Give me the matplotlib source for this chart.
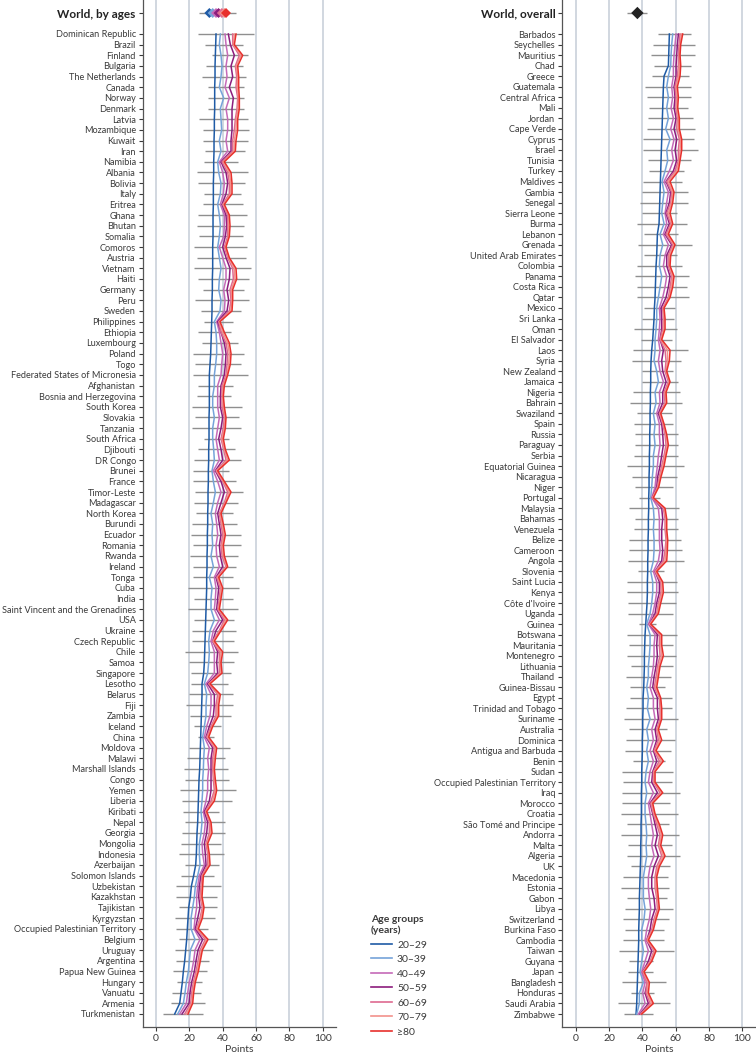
import matplotlib.pyplot as plt
from matplotlib.lines import Line2D

plt.rcParams["font.family"] = ["Lato", "DejaVu Sans"]

# ------------------------------
# Data (points)
# ------------------------------
age_groups = ["20–29", "30–39", "40–49", "50–59", "60–69", "70–79", "≥80"]
age_colors = ["#1f5ba6", "#76a3d9", "#c56ab8", "#8c1d7d", "#de6a90", "#f2918b", "#e8302c"]

world_by_ages = [32, 34, 36, 37.5, 39.5, 41, 42]
world_by_ages_range = [26, 48]
world_overall = 37
world_overall_range = [31, 43]

left_countries = [
    "Dominican Republic", "Brazil", "Finland", "Bulgaria", "The Netherlands", "Canada", "Norway",
    "Denmark", "Latvia", "Mozambique", "Kuwait", "Iran", "Namibia", "Albania", "Bolivia", "Italy",
    "Eritrea", "Ghana", "Bhutan", "Somalia", "Comoros", "Austria", "Vietnam", "Haiti", "Germany",
    "Peru", "Sweden", "Philippines", "Ethiopia", "Luxembourg", "Poland", "Togo",
    "Federated States of Micronesia", "Afghanistan", "Bosnia and Herzegovina", "South Korea",
    "Slovakia", "Tanzania", "South Africa", "Djibouti", "DR Congo", "Brunei", "France",
    "Timor-Leste", "Madagascar", "North Korea", "Burundi", "Ecuador", "Romania", "Rwanda",
    "Ireland", "Tonga", "Cuba", "India", "Saint Vincent and the Grenadines", "USA", "Ukraine",
    "Czech Republic", "Chile", "Samoa", "Singapore", "Lesotho", "Belarus", "Fiji", "Zambia",
    "Iceland", "China", "Moldova", "Malawi", "Marshall Islands", "Congo", "Yemen", "Liberia",
    "Kiribati", "Nepal", "Georgia", "Mongolia", "Indonesia", "Azerbaijan", "Solomon Islands",
    "Uzbekistan", "Kazakhstan", "Tajikistan", "Kyrgyzstan", "Occupied Palestinian Territory",
    "Belgium", "Uruguay", "Argentina", "Papua New Guinea", "Hungary", "Vanuatu", "Armenia",
    "Turkmenistan",
]

left_a20 = [
    36, 35.8, 35.6, 35.4, 35.4, 35.2, 35.2, 35.2, 35, 35,
    34.8, 34.8, 34.6, 34.6, 34.4, 34.4, 34.4, 34.2, 34.2, 34.2,
    34, 34, 34, 33.8, 33.8, 33.6, 33.6, 33.4, 33.2, 33,
    32.8, 32.4, 32, 32, 32, 32, 31.8, 31.8, 31.8, 31.6,
    31.6, 31.4, 31.4, 31.2, 31.2, 31, 31, 30.8, 30.8, 30.6,
    30.6, 30.4, 30.4, 30.2, 30, 29.8, 29.6, 29.4, 29.2, 29,
    28.6, 27.6, 27.6, 27.4, 27.2, 27, 26.8, 26.6, 26.4, 26.2,
    25.8, 25.6, 25.4, 25.2, 25, 24.6, 24.4, 24.2, 23.8, 22.6,
    21.2, 20.6, 19.6, 19.2, 18.8, 18.4, 17.8, 17.2, 16.4, 15.8,
    15, 14.2, 11.2,
]
left_a30 = [
    38.6, 38, 39, 39.6, 39, 38, 40.6, 38.6, 39, 39.4,
    38, 39, 37, 37.6, 39, 38.6, 37, 38, 38.6, 38,
    37, 38, 39, 38, 37.6, 39, 38.4, 35, 36, 36.4,
    36.4, 35.8, 35, 35, 34, 34, 35, 34, 34, 34.6,
    35, 33.6, 34.4, 35.6, 34.4, 33, 34, 33.6, 34, 33,
    34.4, 32, 33.6, 33, 33, 35, 32.4, 31.6, 32, 31.6,
    31, 29, 30.4, 30, 30, 29, 28, 29, 28.6, 28.4,
    28, 28, 27.6, 27, 27.6, 27, 26, 26, 26.4, 25,
    23.6, 23, 22, 21, 21, 23.4, 20.6, 20, 19.4, 18.2,
    17.4, 16.4, 13,
]
left_a40 = [
    41.4, 42, 43, 42, 42.6, 41.4, 44, 42, 43, 43,
    42, 43, 38, 40, 41, 40.4, 38.6, 41, 41, 40.6,
    38, 40, 42, 42, 40.6, 41.4, 41, 36.4, 38, 39,
    40, 39.4, 39, 37, 37, 37, 38, 37, 36, 37,
    38, 34.4, 37, 39, 37, 35.6, 36.4, 37, 36, 36.4,
    38, 35, 36, 35.6, 35, 38, 34.4, 33, 35, 35,
    35, 30, 33, 33, 32.4, 30.4, 29, 32, 31, 31.6,
    31, 31, 30, 28.4, 29.6, 29, 27.6, 28, 29, 26,
    25, 24.4, 24.4, 23.4, 22.8, 26.4, 23.4, 22.6, 21.4, 20,
    19, 18.2, 14.2,
]
left_a50 = [
    43.4, 44.6, 47, 45, 46, 44, 46.4, 45.6, 45.6, 45.6,
    45, 45, 39, 42, 43, 42, 39.6, 42, 42.4, 41.6,
    40, 42, 44.4, 44, 42.6, 43.6, 42.6, 37, 39, 41,
    42, 41.6, 41, 39, 38.6, 38.6, 40, 39, 37.6, 39,
    40, 35.6, 39, 41, 39, 37, 38, 39, 38, 38.6,
    40, 36, 37.6, 37, 36.4, 40, 36, 34, 37, 36.4,
    37, 31, 35, 35, 34.4, 32, 30, 34, 33, 33,
    33, 33, 32, 29, 31, 30.4, 29, 29.6, 30, 27,
    26, 25.6, 26.4, 25, 23.6, 28, 25.2, 24, 23, 21.4,
    20.4, 19.8, 15.6,
]
left_a60 = [
    46, 46, 50, 47.6, 48.4, 48, 49, 48.6, 47.6, 47,
    46, 46, 39.6, 43, 44, 44, 40, 43, 43, 43,
    41, 43, 46, 46.4, 44.4, 45, 44, 37.6, 39, 42,
    43, 42.6, 42, 39.6, 39.6, 39.6, 41, 40.4, 39, 40.6,
    42, 36, 40, 43, 41, 38, 39, 40, 39, 39.6,
    42, 36.4, 38.6, 38, 37, 41, 38, 34, 38, 38,
    38, 31.6, 37, 36, 36, 33, 30.4, 35, 34, 34,
    34.4, 35, 33, 29.6, 32, 32, 30, 31, 31, 27.6,
    27, 26.4, 27.8, 26.4, 24.2, 29.6, 26.4, 25.2, 24, 22.4,
    21.4, 20.8, 17.2,
]
left_a70 = [
    47, 46.4, 51, 48.2, 49, 48.8, 49.4, 49.2, 48.2, 48,
    47, 46.8, 40.4, 44, 44.8, 44.8, 40.4, 43.6, 43.6, 43.6,
    41.6, 43.6, 47, 47.4, 45.2, 45.6, 44.8, 38, 40, 43,
    44, 43.6, 42.6, 40.4, 40, 40.4, 41.6, 41, 39.6, 41,
    43, 36.4, 40.4, 44, 41.6, 38.4, 39.6, 40.8, 39.6, 40.4,
    42.4, 37, 39.2, 38.4, 37.6, 42, 38.4, 34.4, 39, 38.4,
    38.8, 32, 37.8, 36.8, 36.8, 33.6, 31, 35.6, 34.8, 34.4,
    35, 35.6, 34, 30, 32.4, 32.8, 30.4, 31.6, 31.6, 28,
    27.6, 27, 28.3, 27, 24.8, 30.4, 27.2, 26, 24.6, 23,
    22, 21.4, 18.2,
]
left_a80 = [
    48, 47, 52, 49, 49.6, 49.6, 50, 50, 49, 49,
    48, 47.6, 41, 45, 45.6, 45.6, 41, 44, 44.4, 44,
    42, 44, 48, 48.4, 46, 46, 45.6, 38.4, 41, 44,
    45, 44.6, 43, 41, 40.4, 41, 42, 41.6, 40.4, 41.6,
    44, 37, 41, 45, 42, 39, 40.4, 41.6, 40.4, 41,
    43, 37.6, 40, 39, 38, 43, 39, 35, 40, 39,
    39.6, 32.4, 38.6, 37.6, 37.6, 34, 31.6, 36.4, 35.6, 35,
    35.6, 36.4, 35, 30.4, 33, 33.6, 31, 32, 32.4, 28.4,
    28, 27.6, 28.8, 27.8, 25.4, 31.2, 27.8, 26.6, 25.4, 23.6,
    22.6, 22, 19.2,
]
left_low = [
    25.4, 29.4, 33.4, 30, 27.6, 31, 31, 31, 26, 28.4,
    28, 29.4, 29, 24.4, 25.4, 29, 28, 25.4, 24.6, 26,
    23, 24.4, 22.6, 25, 28, 23.6, 27, 28.6, 25, 27.6,
    22.4, 23.6, 22, 25, 24.6, 21.6, 23.6, 21.6, 28.6, 25,
    23, 22, 22, 23.4, 23, 24, 21.4, 21, 22, 20.4,
    22, 22, 19, 22.6, 19.4, 23, 21.6, 21.4, 17.6, 20,
    21, 21, 20, 18, 20.4, 23, 25, 19.6, 18.4, 17,
    17.6, 14.4, 15.4, 16.4, 17.4, 15.4, 15, 13.6, 17.6, 15,
    12, 12, 14, 11.4, 12, 14, 11.4, 12, 10.4, 12.8,
    9.4, 9, 4.4,
]
left_high = [
    58.6, 52, 55, 52, 54, 53, 53, 53, 55, 55.6,
    55, 53.6, 49, 55, 53.6, 51, 52, 54.4, 53, 52,
    54.4, 54, 57, 56, 53, 55.6, 51, 46, 45, 49,
    53, 51, 55, 46.4, 45, 51.6, 49.6, 51, 43.6, 47.6,
    51, 43.6, 48, 52, 49, 46.4, 48.4, 51, 51, 49,
    48, 46, 50, 46, 49, 47, 48, 47, 49, 47,
    45, 43, 46, 46.4, 45, 39, 35, 44.4, 41.6, 43,
    44, 48, 45.4, 38, 41.4, 41.4, 39, 40.6, 38, 35,
    39, 36.4, 36.8, 35.4, 31.4, 36.8, 34.4, 31.6, 30.4, 27.4,
    27, 29.4, 28.2,
]

right_countries = [
    "Barbados", "Seychelles", "Mauritius", "Chad", "Greece", "Guatemala", "Central Africa",
    "Mali", "Jordan", "Cape Verde", "Cyprus", "Israel", "Tunisia", "Turkey", "Maldives",
    "Gambia", "Senegal", "Sierra Leone", "Burma", "Lebanon", "Grenada", "United Arab Emirates",
    "Colombia", "Panama", "Costa Rica", "Qatar", "Mexico", "Sri Lanka", "Oman", "El Salvador",
    "Laos", "Syria", "New Zealand", "Jamaica", "Nigeria", "Bahrain", "Swaziland", "Spain",
    "Russia", "Paraguay", "Serbia", "Equatorial Guinea", "Nicaragua", "Niger", "Portugal",
    "Malaysia", "Bahamas", "Venezuela", "Belize", "Cameroon", "Angola", "Slovenia",
    "Saint Lucia", "Kenya", "Côte d'Ivoire", "Uganda", "Guinea", "Botswana", "Mauritania",
    "Montenegro", "Lithuania", "Thailand", "Guinea-Bissau", "Egypt", "Trinidad and Tobago",
    "Suriname", "Australia", "Dominica", "Antigua and Barbuda", "Benin", "Sudan",
    "Occupied Palestinian Territory", "Iraq", "Morocco", "Croatia", "São Tomé and Principe",
    "Andorra", "Malta", "Algeria", "UK", "Macedonia", "Estonia", "Gabon", "Libya",
    "Switzerland", "Burkina Faso", "Cambodia", "Taiwan", "Guyana", "Japan", "Bangladesh",
    "Honduras", "Saudi Arabia", "Zimbabwe",
]

right_a20 = [
    56.2, 56, 55.8, 55.6, 53, 52.6, 52.4, 52.2, 52, 51.8,
    51.6, 51.4, 51.2, 51, 50.8, 50.6, 50.4, 50.2, 50, 49,
    48.8, 48.6, 48.2, 48, 47.8, 47.6, 47.2, 47, 46.6, 46.2,
    45.6, 45.2, 45, 45, 44.8, 44.8, 44.6, 44.6, 44.4, 44.4,
    44.2, 44.2, 44, 44, 43.8, 43.8, 43.6, 43.6, 43.4, 43.4,
    43.2, 43.2, 43, 43, 42.8, 42.4, 42, 41.6, 41.4, 41.2,
    41.2, 41, 40.8, 40.4, 40.4, 40.2, 40.2, 40, 40, 39.8,
    39.6, 39.6, 39.4, 39.4, 39.4, 39.2, 39.2, 39, 39, 38.8,
    38.6, 38.4, 38.2, 38.2, 38, 37.8, 37.8, 37.6, 37.4, 37.2,
    37, 36.8, 36.6, 36.2,
]
right_a30 = [
    58.2, 57.6, 57.2, 57, 55.6, 54.6, 55.6, 54.6, 55.6, 54,
    56.6, 54.6, 55.2, 53.6, 51.8, 53, 52.2, 51.6, 53, 50.6,
    52.2, 50.6, 50.2, 51.6, 50.6, 49.6, 48.6, 48.6, 48.2, 47.6,
    47.6, 47, 48.6, 49.6, 47.6, 48.2, 46.6, 47.6, 47, 47.6,
    46.6, 46.6, 46, 45.6, 45, 46.6, 47, 46.6, 47, 47,
    46.6, 45, 46.2, 46.2, 45.6, 44.6, 42.6, 44.6, 44.6, 44.2,
    43.6, 43.6, 42.6, 43.6, 43, 44.6, 42.6, 43.6, 42.6, 43.6,
    42.2, 41.6, 42.6, 41.6, 41.6, 42.2, 42.6, 42.2, 42.6, 41.6,
    40.6, 40.6, 40.6, 41.6, 41, 39.6, 39.6, 40.6, 39.6, 38.6,
    40.6, 38.2, 38.2, 36.6,
]
right_a40 = [
    60.2, 59.6, 59, 58.6, 58.6, 57.6, 58.2, 57.2, 58.6, 57,
    59, 57.6, 58.6, 56.2, 53, 55.6, 54.6, 53.6, 54.6, 52.6,
    55.6, 53.6, 52.6, 54.6, 53.6, 52.2, 50.2, 50.6, 50.2, 49.6,
    50.6, 49.6, 50.6, 52.6, 50.2, 50.6, 48.6, 50.2, 50.2, 50.6,
    49.6, 49, 48.2, 47.6, 45.6, 49.6, 50.2, 50.2, 50.2, 50.6,
    49.6, 46.6, 48.6, 48.6, 47.6, 46.2, 43.6, 47.6, 47, 47,
    46.6, 45.6, 44.6, 46.6, 46.6, 47.6, 45.6, 46.6, 44.6, 46.6,
    44.6, 43.6, 46.6, 43.6, 44.6, 45.6, 46.6, 45.6, 47, 44.6,
    43.6, 43.6, 44.2, 45, 44.2, 42.6, 41.6, 43.6, 41.6, 39.6,
    41.6, 40.2, 41.6, 37.6,
]
right_a50 = [
    61.6, 61, 60.6, 60.2, 60.2, 59, 59.6, 59, 60.2, 59,
    60.6, 59.6, 60.6, 58.6, 54.2, 57, 56.2, 54.2, 56.2, 53.6,
    57.6, 54.6, 54.6, 56.6, 55.6, 54.2, 51.2, 51.6, 51.6, 50.6,
    52.6, 51.6, 52.2, 54.2, 52.2, 52.2, 49.6, 51.6, 52.2, 52.6,
    51.6, 50.6, 49.2, 48.6, 46, 51.6, 52.2, 51.6, 51.6, 52.2,
    51.6, 47.6, 50.2, 50.2, 48.6, 47.6, 44.2, 49, 48.6, 49,
    48.2, 47, 46.2, 49, 49, 49.6, 47.6, 48.6, 46.6, 48.6,
    46.2, 45.6, 49, 44.6, 46.2, 47.6, 49, 47.6, 49.6, 47,
    45.6, 45.6, 47, 47.6, 45.6, 44.6, 42.6, 45.6, 43.6, 40.2,
    43, 41.6, 43.6, 38.6,
]
right_a60 = [
    62.6, 62, 61.6, 61.6, 61, 59.6, 60.2, 60.2, 61, 60.6,
    62.2, 61.6, 61.6, 59.6, 54.6, 57.6, 57, 54.6, 57, 54.2,
    58.2, 55.6, 55.6, 57.6, 56.6, 55.6, 52.2, 52.6, 52.2, 50.6,
    53.6, 54.2, 53.6, 55.6, 53, 53.6, 50.2, 52.2, 53.6, 54.2,
    53, 51.6, 50.2, 49, 46, 52.6, 53.6, 53.6, 54.2, 53.6,
    52.6, 47.6, 51, 51.2, 49.6, 48.6, 44.2, 50.2, 50.2, 50.6,
    49, 48.2, 47.2, 50.2, 50.6, 50.6, 48.6, 49.6, 47, 50.2,
    46.6, 46.6, 50.6, 45, 46.6, 48.6, 50.6, 49.6, 51.6, 48.6,
    47.6, 47.6, 48.6, 49, 47, 45.6, 42.6, 47, 44.6, 40.2,
    42.6, 42.2, 44.6, 39,
]
right_a70 = [
    63.4, 62.6, 62.2, 62.2, 61.8, 60.2, 61, 60.6, 61.6, 61.4,
    63, 62.6, 62.2, 60.6, 55.6, 58.2, 57.6, 55.6, 57.6, 55,
    59, 56.2, 56.2, 58.2, 57.4, 56.2, 52.6, 53, 53, 51.2,
    55, 55.2, 54.2, 56.2, 53.6, 54.2, 50.6, 52.6, 54.2, 55,
    53.6, 52.2, 50.6, 49.4, 46.2, 53, 54.2, 54.2, 54.6, 54.2,
    53.6, 48.2, 51.6, 51.8, 50.2, 49, 44.6, 51, 51, 51.6,
    49.8, 49, 47.8, 50.6, 51.2, 51.2, 49, 50.6, 47.6, 51.4,
    47, 47, 51.4, 45.6, 47, 49.4, 51.4, 50.2, 52.6, 49.4,
    48.2, 48.2, 49, 49.6, 47.6, 46.2, 43, 47.6, 45, 40.6,
    43.4, 43, 45.6, 39.4,
]
right_a80 = [
    64.2, 63, 62.6, 63, 62.6, 61, 61.6, 61.2, 62.2, 62.2,
    63.6, 63.6, 62.6, 61.6, 56.6, 59, 58.2, 56.6, 58.2, 55.6,
    59.6, 57, 56.6, 59, 58.2, 56.6, 53, 53.6, 53.6, 51.6,
    56.6, 56.2, 54.6, 56.6, 54.2, 54.6, 51, 53, 54.6, 55.6,
    54.2, 53, 51.2, 49.8, 46.6, 53.6, 54.6, 54.6, 55.2, 55,
    54.6, 48.6, 52.2, 52.6, 51, 49.6, 45, 51.6, 51.6, 52.6,
    50.6, 49.6, 48.6, 51, 51.6, 51.6, 49.6, 51.6, 48.2, 52.6,
    47.6, 47.6, 52.2, 46.2, 47.6, 50.2, 52.2, 51, 53.6, 50.2,
    48.6, 49, 49.6, 50.2, 48.2, 46.6, 43.6, 48.2, 45.6, 41,
    44.2, 43.6, 46.6, 39.6,
]
right_low = [
    49.6, 46.2, 45, 47, 46, 41.6, 42.6, 44.2, 43.6, 42.6,
    40.6, 40.2, 43.6, 44.2, 40.2, 39.6, 38.6, 39.6, 37, 41,
    37.6, 41.2, 36.6, 35.6, 36.6, 37, 41.2, 39.6, 35, 39,
    34.2, 33.8, 40, 39.6, 34.6, 32.6, 36.6, 35.2, 35.6, 35.6,
    35.2, 31, 34, 35.6, 38, 32, 35.6, 35, 32.2, 32.2,
    31.6, 37.6, 30.6, 31, 31.6, 31.6, 38, 31, 32.2, 30.6,
    33, 30.2, 32.8, 32.6, 30, 29.2, 32.2, 30.2, 29.6, 34.6,
    27.6, 28.2, 28, 28, 27.2, 31, 27.2, 31.6, 30.6, 33.2,
    28.2, 27.2, 30.6, 29.6, 28.2, 29.6, 28.6, 26.2, 32.2, 31.6,
    27.6, 33.2, 25.6, 29,
]
right_high = [
    69, 71.6, 71.6, 69, 68.2, 69, 69, 67.6, 70.6, 71.6,
    71.2, 73.6, 69, 65, 63.6, 67.6, 67.2, 60.6, 67, 61.2,
    69.6, 61, 63.6, 68.2, 66.6, 68.2, 59.6, 59, 61, 57.6,
    67.6, 63.4, 58.6, 61.2, 62.6, 63.6, 57.6, 58.6, 61.2, 61.6,
    61.6, 65.2, 60.6, 58.6, 50.6, 62.2, 61.2, 61.6, 63, 63.6,
    65.2, 53.2, 61, 61.2, 60.2, 58.6, 48.2, 60.6, 58.6, 60.2,
    58.6, 57.2, 53.6, 57.6, 57.6, 61.6, 54.6, 59.6, 57.2, 53.6,
    58.6, 58, 62.6, 56.6, 61.2, 56.2, 62.2, 57.6, 62.6, 56.6,
    55.6, 56.2, 54.6, 58.6, 56.2, 53.2, 53.2, 59, 46.2, 46.2,
    54, 47, 56.6, 46.2,
]

TEXT = "#3a3a3a"
GRID = "#c9d1da"
BAR = "#8f8f8f"


def draw_panel(ax, countries, series, low, high, world_label, world_vals, world_range,
               world_colors, world_size):
    n = len(countries)
    step = 980 / (n - 1)          # row spacing in pixels
    world_y = -21 / step
    rows = list(range(n))

    ax.set_xlim(-8, 108)
    ax.set_ylim((1027 - 34) / step, -34 / step)

    for x in range(0, 101, 20):
        ax.axvline(x, color=GRID, lw=1.2, zorder=0)

    # country ranges
    ax.hlines(rows, low, high, color=BAR, lw=1.0, zorder=1)
    # age group lines
    for vals, col in zip(series, age_colors):
        ax.plot(vals, rows, color=col, lw=1.1, zorder=2)

    # world row
    ax.hlines([world_y], world_range[0], world_range[1], color=BAR, lw=1.0, zorder=1)
    for v, col in zip(world_vals, world_colors):
        ax.scatter([v], [world_y], marker="D", s=world_size, color=col, edgecolors="none", zorder=3)

    ax.set_yticks([world_y] + rows)
    ax.set_yticklabels([world_label] + countries)

    ax.set_xticks(range(0, 101, 20))
    ax.set_xlabel("Points", fontsize=7.5, color=TEXT, labelpad=1.5)
    ax.tick_params(axis="y", length=3, width=0.8, pad=2, labelsize=6.6, colors=TEXT)
    ax.tick_params(axis="x", length=3, width=0.8, pad=2, labelsize=7.5, colors=TEXT)

    # bold world row label (after tick_params so the size sticks)
    first = ax.get_yticklabels()[0]
    first.set_fontweight("bold")
    first.set_fontsize(8.5)
    first.set_color("#222222")

    for side in ["top", "right"]:
        ax.spines[side].set_visible(False)
    for side in ["left", "bottom"]:
        ax.spines[side].set_color("#555555")
        ax.spines[side].set_linewidth(0.9)


def main():
    fig = plt.figure(figsize=(7.56, 10.56), dpi=100)
    ax_l = fig.add_axes([142.7 / 756, 29 / 1056, 193.3 / 756, 1027 / 1056])
    ax_r = fig.add_axes([562.4 / 756, 29 / 1056, 193.3 / 756, 1027 / 1056])

    draw_panel(ax_l, left_countries,
               [left_a20, left_a30, left_a40, left_a50, left_a60, left_a70, left_a80],
               left_low, left_high, "World, by ages",
               world_by_ages, world_by_ages_range, age_colors, 26)
    draw_panel(ax_r, right_countries,
               [right_a20, right_a30, right_a40, right_a50, right_a60, right_a70, right_a80],
               right_low, right_high, "World, overall",
               [world_overall], world_overall_range, ["#222222"], 40)

    handles = [Line2D([0], [0], color=c, lw=1.2) for c in age_colors]
    leg = ax_l.legend(handles, age_groups, title="Age groups\n(years)",
                      loc="upper left", bbox_to_anchor=(371 / 756, 1 - 915 / 1056),
                      bbox_transform=fig.transFigure, frameon=False, fontsize=7.5,
                      title_fontproperties={"weight": "bold", "size": 7.5},
                      alignment="left", handlelength=2.0, handletextpad=0.5,
                      labelspacing=0.5, borderpad=0, borderaxespad=0)
    for t in leg.get_texts():
        t.set_color(TEXT)
    leg.get_title().set_color(TEXT)

    fig.savefig("out.png", dpi=100)


if __name__ == "__main__":
    main()
